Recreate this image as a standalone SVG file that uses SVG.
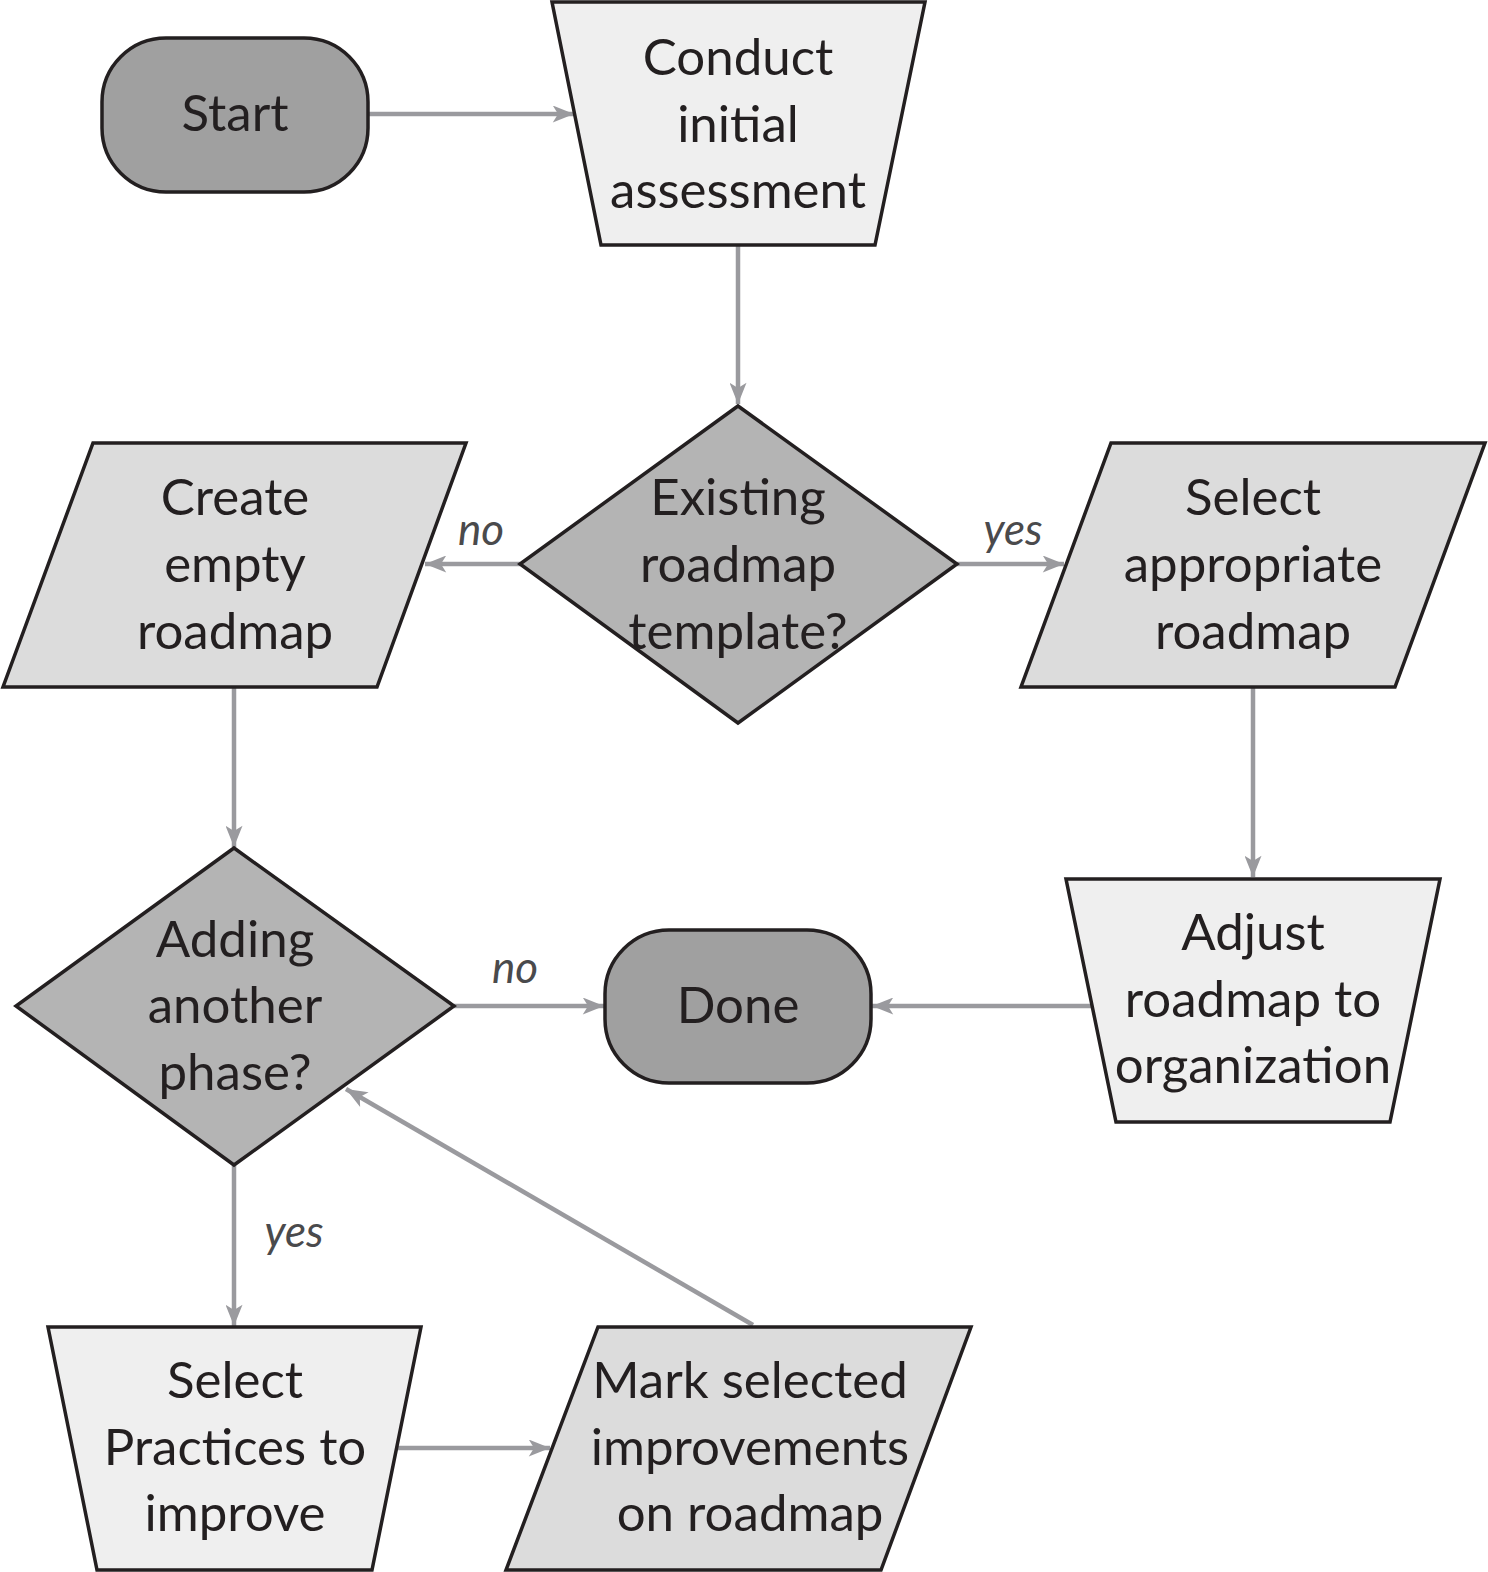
<svg xmlns="http://www.w3.org/2000/svg" width="1488" height="1572" viewBox="0 0 1488 1572">
<defs>
<style>
.n{stroke:#231f20;stroke-width:3.5;stroke-linejoin:miter}
.term{fill:#a0a0a0}
.dec{fill:#b4b4b4}
.para{fill:#dcdcdc}
.trap{fill:#efefef}
.t{font-family:Lato,"Noto Sans",sans-serif;font-size:51px;fill:#231f20;text-anchor:middle}
.lbl{font-family:Lato,"Noto Sans",sans-serif;font-size:44px;font-style:italic;fill:#4a4a4c;text-anchor:middle}
.c{stroke:#9a9a9e;stroke-width:4.5;fill:none;marker-end:url(#ah)}
</style>
<marker id="ah" viewBox="0 0 20 16" refX="20" refY="8" markerWidth="22" markerHeight="17" markerUnits="userSpaceOnUse" orient="auto">
<path d="M0,0 L20,8 L0,16 L5,8 Z" fill="#9a9a9e"/>
</marker>
</defs>
<rect width="1488" height="1572" fill="#fff"/>
<g id="connectors">
<line class="c" x1="368" y1="114" x2="574" y2="114"/>
<line class="c" x1="738" y1="245" x2="738" y2="404"/>
<line class="c" x1="520" y1="564" x2="425" y2="564"/>
<line class="c" x1="957" y1="564" x2="1064" y2="564"/>
<line class="c" x1="234" y1="687" x2="234" y2="847"/>
<line class="c" x1="1253" y1="687" x2="1253" y2="877"/>
<line class="c" x1="1091" y1="1006" x2="872" y2="1006"/>
<line class="c" x1="454" y1="1006" x2="604" y2="1006"/>
<line class="c" x1="234" y1="1165" x2="234" y2="1326"/>
<line class="c" x1="396" y1="1448" x2="550" y2="1448"/>
<line class="c" x1="753" y1="1325" x2="346" y2="1089"/>
</g>
<g id="labels">
<text class="lbl" x="481" y="545">no</text>
<text class="lbl" x="1013" y="545">yes</text>
<text class="lbl" x="515" y="983">no</text>
<text class="lbl" x="294" y="1247">yes</text>
</g>
<g id="start">
<rect class="n term" x="102" y="38" width="266" height="154" rx="64" ry="64"/>
<text class="t" x="235" y="131">Start</text>
</g>
<g id="conduct">
<polygon class="n trap" points="552,2 925,2 875,245 601,245"/>
<text class="t" x="738" y="75">Conduct</text>
<text class="t" x="738" y="142">initial</text>
<text class="t" x="738" y="208">assessment</text>
</g>
<g id="existing">
<polygon class="n dec" points="738,406 957,564 738,723 520,564"/>
<text class="t" x="738" y="515">Existing</text>
<text class="t" x="738" y="582">roadmap</text>
<text class="t" x="738" y="649">template?</text>
</g>
<g id="create">
<polygon class="n para" points="93,443 466,443 377,687 3,687"/>
<text class="t" x="235" y="515">Create</text>
<text class="t" x="235" y="582">empty</text>
<text class="t" x="235" y="649">roadmap</text>
</g>
<g id="select-roadmap">
<polygon class="n para" points="1111,443 1485,443 1395,687 1021,687"/>
<text class="t" x="1253" y="515">Select</text>
<text class="t" x="1253" y="582">appropriate</text>
<text class="t" x="1253" y="649">roadmap</text>
</g>
<g id="adding">
<polygon class="n dec" points="234,848 454,1006 234,1165 16,1006"/>
<text class="t" x="235" y="957">Adding</text>
<text class="t" x="235" y="1023">another</text>
<text class="t" x="235" y="1090">phase?</text>
</g>
<g id="done">
<rect class="n term" x="605" y="930" width="266" height="153" rx="64" ry="64"/>
<text class="t" x="738" y="1023">Done</text>
</g>
<g id="adjust">
<polygon class="n trap" points="1066,879 1440,879 1390,1122 1116,1122"/>
<text class="t" x="1253" y="950">Adjust</text>
<text class="t" x="1253" y="1017">roadmap to</text>
<text class="t" x="1253" y="1083">organization</text>
</g>
<g id="select-practices">
<polygon class="n trap" points="48,1327 421,1327 372,1570 97,1570"/>
<text class="t" x="235" y="1398">Select</text>
<text class="t" x="235" y="1465">Practices to</text>
<text class="t" x="235" y="1531">improve</text>
</g>
<g id="mark">
<polygon class="n para" points="598,1327 971,1327 881,1570 506,1570"/>
<text class="t" x="750" y="1398">Mark selected</text>
<text class="t" x="750" y="1465">improvements</text>
<text class="t" x="750" y="1531">on roadmap</text>
</g>
</svg>
